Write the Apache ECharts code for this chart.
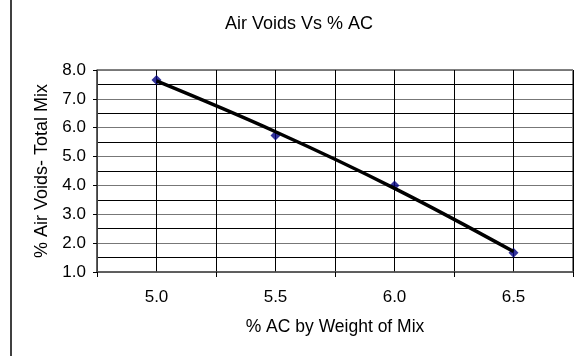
<!DOCTYPE html>
<html>
<head>
<meta charset="utf-8">
<script src="https://cdn.jsdelivr.net/npm/echarts@6/dist/echarts.min.js"></script>
<style>
html,body{margin:0;padding:0;background:#fff;}
#c{width:583px;height:356px;}
</style>
</head>
<body>
<div id="c"></div>
<script>
// Data
var categories = ['5.0', '5.5', '6.0', '6.5'];
var acValues = [5.0, 5.5, 6.0, 6.5];
var airVoids = [7.65, 5.73, 4.0, 1.67];
var trendValues = [7.62, 5.86, 3.9, 1.71];
var yTicks = [1, 2, 3, 4, 5, 6, 7, 8];

var FONT = 'Arial, "Liberation Sans", sans-serif';

var chart = echarts.init(document.getElementById('c'), null, {renderer: 'canvas'});

var pointData = acValues.map(function (x, i) { return [x, airVoids[i]]; });
var trendData = acValues.map(function (x, i) { return [x, trendValues[i]]; });

var option = {
  backgroundColor: '#ffffff',
  animation: false,
  title: {
    text: 'Air Voids Vs % AC',
    left: 220,
    top: 10,
    textStyle: {fontFamily: FONT, fontSize: 18, fontWeight: 'normal', color: '#000'}
  },
  grid: {
    left: 97, right: 10, top: 70, bottom: 84,
    show: true, borderColor: '#000', borderWidth: 1, backgroundColor: '#fff',
    containLabel: false
  },
  xAxis: [
    {
      type: 'value', min: 4.75, max: 6.75, interval: 0.5,
      position: 'bottom',
      axisLine: {show: true, lineStyle: {color: '#555', width: 1.5}},
      axisTick: {show: true, length: 5, lineStyle: {color: '#000', width: 1}},
      axisLabel: {show: false},
      splitLine: {show: true, lineStyle: {color: '#000', width: 1}},
      minorTick: {show: false, splitNumber: 2},
      minorSplitLine: {show: true, lineStyle: {color: '#000', width: 1}}
    },
    {
      type: 'value', min: 4.75, max: 6.75, interval: 0.25,
      position: 'bottom',
      axisLine: {show: false},
      axisTick: {show: false},
      splitLine: {show: false},
      axisLabel: {
        show: true, margin: 17,
        fontFamily: FONT, fontSize: 17, color: '#000',
        formatter: function (v) {
          for (var i = 0; i < acValues.length; i++) {
            if (Math.abs(acValues[i] - v) < 1e-9) return categories[i];
          }
          return '';
        }
      },
      name: '% AC by Weight of Mix',
      nameLocation: 'middle',
      nameGap: 46,
      nameTextStyle: {fontFamily: FONT, fontSize: 17.5, color: '#000'}
    }
  ],
  yAxis: {
    type: 'value', min: yTicks[0], max: yTicks[yTicks.length - 1], interval: 1,
    axisLine: {show: true, lineStyle: {color: '#555', width: 1.5}},
    axisTick: {show: true, length: 4, lineStyle: {color: '#000', width: 1}},
    axisLabel: {
      margin: 11, fontFamily: FONT, fontSize: 17, color: '#000',
      formatter: function (v) { return v.toFixed(1); }
    },
    splitLine: {show: true, lineStyle: {color: '#777', width: 1}},
    minorTick: {show: false, splitNumber: 2},
    minorSplitLine: {show: true, lineStyle: {color: '#000', width: 1}},
    name: '% Air Voids- Total Mix',
    nameLocation: 'middle',
    nameGap: 44,
    nameTextStyle: {fontFamily: FONT, fontSize: 18, color: '#000'}
  },
  series: [
    {
      type: 'scatter',
      xAxisIndex: 0,
      data: pointData,
      symbol: 'diamond',
      symbolSize: 10,
      itemStyle: {color: '#000080'},
      z: 2
    },
    {
      type: 'line',
      xAxisIndex: 0,
      data: trendData,
      smooth: 0.4,
      showSymbol: false,
      symbol: 'none',
      lineStyle: {color: '#000', width: 3.5},
      z: 3
    }
  ],
  graphic: [
    {
      type: 'line',
      shape: {x1: 11, y1: 0, x2: 11, y2: 356},
      style: {stroke: '#000', lineWidth: 1.5},
      silent: true
    }
  ]
};

chart.setOption(option);
</script>
</body>
</html>
